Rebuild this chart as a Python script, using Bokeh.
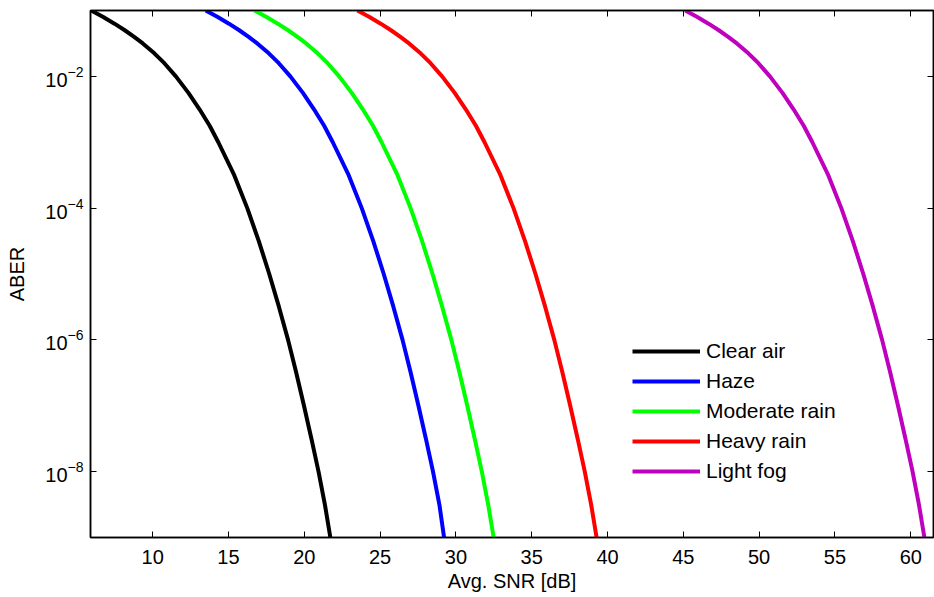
from bokeh.plotting import figure
from bokeh.models import (FixedTicker, LinearAxis, LogAxis, Legend, LegendItem,
                          Range1d, LogTickFormatter, CustomJSTickFormatter)
from bokeh.embed import file_html
from bokeh.resources import INLINE

# ABER levels (shared) and Avg. SNR [dB] read for each channel condition
aber = [1e-1, 7.943e-2, 6.310e-2, 5.012e-2, 3.981e-2, 3.162e-2, 2.239e-2, 1.585e-2,
        1e-2, 5.623e-3, 3.162e-3, 1.778e-3, 1e-3, 3.162e-4, 1e-4, 3.162e-5, 1e-5,
        3.162e-6, 1e-6, 3.162e-7, 1e-7, 3.162e-8, 1e-8, 3.162e-9, 1e-9]
snr_clear_air = [5.95, 6.74, 7.48, 8.16, 8.78, 9.35, 10.11, 10.77, 11.53, 12.36, 13.09,
                 13.76, 14.33, 15.38, 16.24, 17.0, 17.69, 18.33, 18.93, 19.47, 19.98,
                 20.47, 20.94, 21.36, 21.72]
snr_haze = [13.5, 14.29, 15.03, 15.71, 16.33, 16.9, 17.66, 18.32, 19.08, 19.91, 20.64,
            21.31, 21.88, 22.93, 23.79, 24.55, 25.24, 25.88, 26.48, 27.02, 27.53,
            28.02, 28.49, 28.91, 29.22]
snr_moderate_rain = [16.72, 17.51, 18.25, 18.93, 19.55, 20.12, 20.88, 21.54, 22.3, 23.13,
                     23.86, 24.53, 25.1, 26.15, 27.01, 27.77, 28.46, 29.1, 29.7, 30.24,
                     30.75, 31.24, 31.71, 32.13, 32.49]
snr_heavy_rain = [23.51, 24.3, 25.04, 25.72, 26.34, 26.91, 27.67, 28.33, 29.09, 29.92,
                  30.65, 31.32, 31.89, 32.94, 33.8, 34.56, 35.25, 35.89, 36.49, 37.03,
                  37.54, 38.03, 38.5, 38.92, 39.28]
snr_light_fog = [45.13, 45.92, 46.66, 47.34, 47.96, 48.53, 49.29, 49.95, 50.71, 51.54,
                 52.27, 52.94, 53.51, 54.56, 55.42, 56.18, 56.87, 57.51, 58.11, 58.65,
                 59.16, 59.65, 60.12, 60.54, 60.9]

series_names = ["Clear air", "Haze", "Moderate rain", "Heavy rain", "Light fog"]
series_snr = [snr_clear_air, snr_haze, snr_moderate_rain, snr_heavy_rain, snr_light_fog]
series_colors = ["#000000", "#0000ff", "#00ff00", "#ff0000", "#bf00bf"]

x_ticks = [10, 15, 20, 25, 30, 35, 40, 45, 50, 55, 60]
y_ticks = [1e-8, 1e-6, 1e-4, 1e-2]

FONT = "Liberation Sans"
FS = "20px"

p = figure(width=934, height=597, y_axis_type="log",
           x_range=Range1d(5.9, 61.5), y_range=Range1d(1e-9, 1e-1),
           output_backend="svg", toolbar_location=None,
           min_border_left=90, min_border_right=1, min_border_top=10, min_border_bottom=60)
p.grid.visible = False
p.outline_line_color = "#000000"
p.outline_line_width = 1.5
p.background_fill_color = "white"
p.border_fill_color = "white"

def style_axis(ax):
    ax.axis_line_color = "#000000"
    ax.axis_line_width = 1.5
    ax.major_tick_in = 6
    ax.major_tick_out = 0
    ax.major_tick_line_color = "#000000"
    ax.minor_tick_line_color = None
    ax.major_label_text_font = FONT
    ax.major_label_text_font_size = FS
    ax.major_label_text_color = "#000000"
    ax.axis_label_text_font = FONT
    ax.axis_label_text_font_size = FS
    ax.axis_label_text_font_style = "normal"
    ax.axis_label_text_color = "#000000"

xa = p.xaxis[0]
xa.ticker = FixedTicker(ticks=x_ticks)
xa.axis_label = "Avg. SNR [dB]"
xa.major_label_standoff = 12
xa.axis_label_standoff = 3
style_axis(xa)

ya = p.yaxis[0]
ya.ticker = FixedTicker(ticks=y_ticks)
ya.formatter = LogTickFormatter()
ya.axis_label = "ABER"
ya.major_label_standoff = 7
ya.axis_label_standoff = 14
style_axis(ya)

blank = CustomJSTickFormatter(code="return ''")
top = LinearAxis(ticker=FixedTicker(ticks=x_ticks), formatter=blank, major_label_standoff=0)
style_axis(top)
p.add_layout(top, "above")
right = LogAxis(ticker=FixedTicker(ticks=y_ticks), formatter=blank, major_label_standoff=0)
style_axis(right)
p.add_layout(right, "right")

items = []
for name, snr, col in zip(series_names, series_snr, series_colors):
    r = p.line(snr, aber, line_color=col, line_width=4)
    items.append(LegendItem(label=name, renderers=[r]))

legend = Legend(items=items, location=(542, 51), padding=0, margin=0,
                spacing=0, glyph_width=68, glyph_height=30, label_height=30,
                label_standoff=6, border_line_color=None, background_fill_alpha=0,
                label_text_font=FONT, label_text_font_size="21px", label_text_color="#000000")
p.add_layout(legend, "center")

open("out.html", "w").write(file_html(p, INLINE))
